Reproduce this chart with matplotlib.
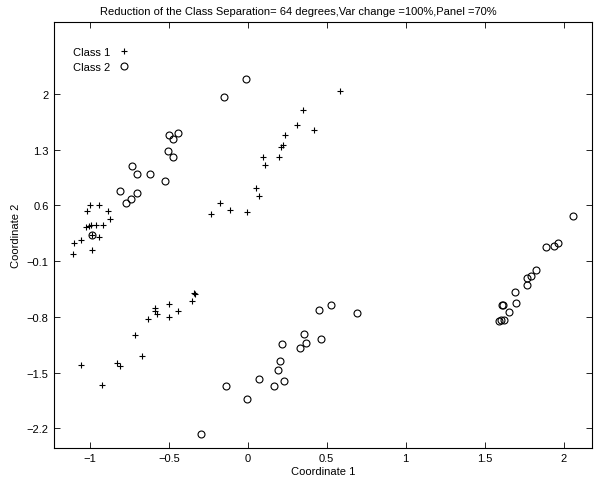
import matplotlib
matplotlib.use("Agg")
import matplotlib.pyplot as plt

plt.rcParams["font.family"] = ["Liberation Sans", "DejaVu Sans"]
plt.rcParams["font.size"] = 8

# class 1 (+)
c1_x = [-1.002, -0.943, -1.019, -0.882, -0.875, -0.918, -0.964, -1.008, -1.023, -0.99,
        -0.985, -0.939, -1.054, -1.101, -0.985, -1.108,
        0.587, 0.348, 0.313, 0.418, 0.234, 0.222, 0.213, 0.097, 0.20, 0.112,
        0.053, 0.07, -0.177, -0.23, -0.111, -0.002,
        -0.342, -0.333, -0.35, -0.496, -0.589, -0.585, -0.577, -0.439, -0.497,
        -0.633, -0.715, -0.671, -0.825, -0.812, -1.057, -0.926]
c1_y = [0.606, 0.61, 0.53, 0.53, 0.426, 0.36, 0.36, 0.34, 0.325, 0.35,
        0.229, 0.207, 0.17, 0.128, 0.04, -0.014,
        2.034, 1.795, 1.61, 1.55, 1.49, 1.36, 1.34, 1.205, 1.21, 1.108,
        0.819, 0.715, 0.63, 0.49, 0.543, 0.514,
        -0.50, -0.516, -0.597, -0.642, -0.685, -0.72, -0.76, -0.726, -0.806,
        -0.83, -1.03, -1.295, -1.38, -1.42, -1.40, -1.652]

# class 2 (o)
c2_x = [-0.014, -0.152, -0.496, -0.443, -0.475, -0.502, -0.475, -0.736, -0.700, -0.620,
        -0.521, -0.812, -0.774, -0.740, -0.704, -0.985,
        -0.135, -0.006, -0.297, 0.07, 0.169, 0.228, 0.19, 0.205, 0.22, 0.332,
        0.367, 0.359, 0.466, 0.454, 0.525, 0.694,
        2.06, 1.891, 1.937, 1.966, 1.825, 1.794, 1.766, 1.768, 1.692, 1.70,
        1.61, 1.618, 1.656, 1.589, 1.604, 1.62]
c2_y = [2.19, 1.96, 1.48, 1.51, 1.43, 1.28, 1.21, 1.10, 1.00, 1.00,
        0.91, 0.78, 0.635, 0.685, 0.76, 0.229,
        -1.668, -1.83, -2.27, -1.577, -1.664, -1.609, -1.467, -1.35, -1.145, -1.195,
        -1.124, -1.015, -1.082, -0.717, -0.647, -0.747,
        0.471, 0.074, 0.094, 0.124, -0.207, -0.29, -0.307, -0.40, -0.487, -0.626,
        -0.65, -0.65, -0.742, -0.848, -0.84, -0.843]

xticks = [-1, -0.5, 0, 0.5, 1, 1.5, 2]
yticks = [-2.2, -1.5, -0.8, -0.1, 0.6, 1.3, 2]
ytick_labels = ["\u22122.2", "\u22121.5", "\u22120.8", "\u22120.1", "0.6", "1.3", "2"]
xtick_labels = ["\u22121", "\u22120.5", "0", "0.5", "1", "1.5", "2"]

fig = plt.figure(figsize=(5.96, 4.85), dpi=100)
ax = fig.add_axes([0.0898, 0.0742, 0.9035, 0.8788])

ax.plot(c1_x, c1_y, "+", color="black", markersize=5, markeredgewidth=0.8, label="Class 1")
ax.plot(c2_x, c2_y, "o", color="black", markerfacecolor="none", markersize=5,
        markeredgewidth=0.8, label="Class 2")

ax.set_xlim(-1.23, 2.18)
ax.set_ylim(-2.447, 2.908)
ax.set_xticks(xticks)
ax.set_xticklabels(xtick_labels)
ax.set_yticks(yticks)
ax.set_yticklabels(ytick_labels)
ax.tick_params(direction="in", top=True, right=True, length=4, width=0.6, labelsize=8)
for s in ax.spines.values():
    s.set_linewidth(0.8)

ax.set_xlabel("Coordinate 1", fontsize=8, labelpad=2)
ax.set_ylabel("Coordinate 2", fontsize=8, labelpad=4)
# title is centred on the figure, not on the axes
fig.text(0.5, 0.975, "Reduction of the Class Separation= 64 degrees,Var change =100%,Panel =70%",
         ha="center", va="center", fontsize=8)

ax.legend(loc="upper left", frameon=False, markerfirst=False, handlelength=1.2,
          handletextpad=0.6, borderaxespad=0.9, labelspacing=0.38, fontsize=8,
          bbox_to_anchor=(0.0093, 0.974))

fig.savefig("out.png", dpi=100)
